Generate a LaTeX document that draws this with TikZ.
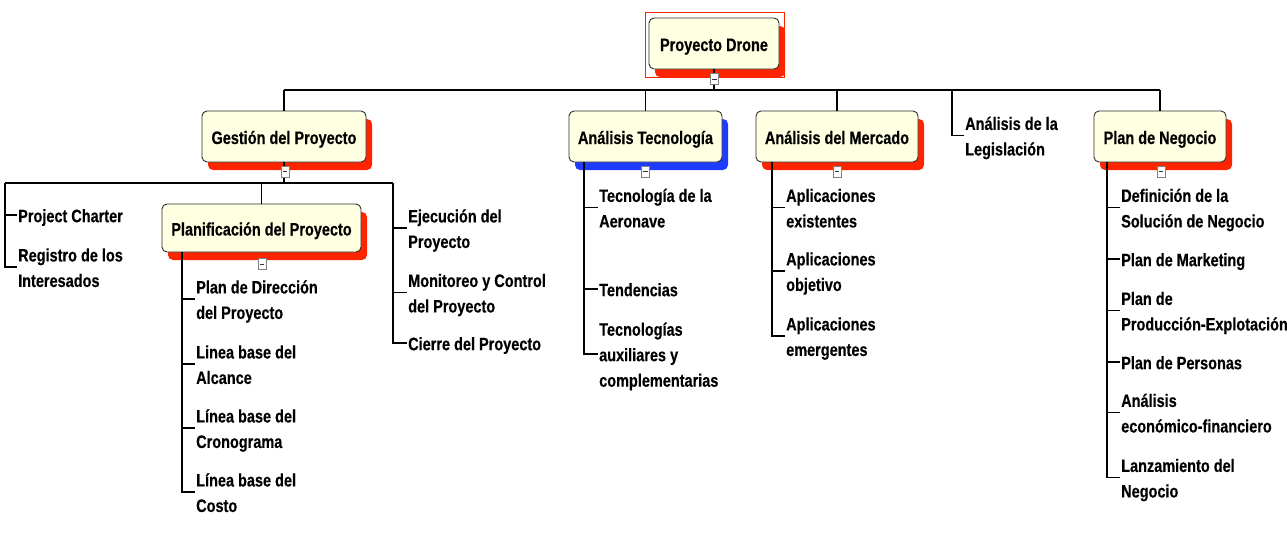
\documentclass[tikz,border=0pt]{standalone}
\usepackage{fontspec}
\newfontfamily\nar{Liberation Sans}[FakeStretch=0.805,FakeBold=0.35]
\usetikzlibrary{shadows}
\definecolor{cream}{RGB}{255,255,226}
\definecolor{shred}{RGB}{255,36,0}
\definecolor{shblue}{RGB}{30,60,255}
\definecolor{bord}{RGB}{45,45,45}
\newcommand{\wbsfont}{\nar\bfseries\fontsize{18}{25.5}\selectfont}
\newcommand{\ts}{\rule{0pt}{22pt}}
\newcommand{\botstrut}{\rule[-7.6pt]{0pt}{7.6pt}}
\tikzset{
  conn/.style={line width=1.9pt, black, line join=miter},
  wbs/.style={draw=bord, line width=0.9pt, fill=cream, rounded corners=5pt,
    inner sep=0pt, font=\wbsfont, text height=16pt, text depth=1pt},
  redsh/.style={general shadow={fill=shred, shadow xshift=6pt, shadow yshift=-8pt}},
  blush/.style={general shadow={fill=shblue, shadow xshift=6pt, shadow yshift=-8pt}},
  leaf/.style={anchor=west, inner xsep=1pt, inner ysep=0pt, align=left, font=\wbsfont,
    execute at end node=\botstrut},
  marker/.style={draw=gray, fill=white, line width=0.6pt, minimum width=8pt,
    minimum height=11pt, inner sep=0pt,
    path picture={\draw[line width=1pt, black!80]
      ([xshift=-2.2pt]path picture bounding box.center) --
      ([xshift=2.2pt]path picture bounding box.center);}}
}
\begin{document}
\begin{tikzpicture}[x=1pt,y=-1pt]
\fill[white] (0,0) rectangle (1287,558);
\useasboundingbox (0,0) rectangle (1287,558);

% selection frame of the root
\draw[shred, line width=0.8pt] (645,12) rectangle (784,77);

% boxes
\node[wbs, redsh, minimum width=130pt, minimum height=51pt] (root) at (714,43.5) {Proyecto Drone};
\node[wbs, redsh, minimum width=164pt, minimum height=51pt] (gest) at (284,136.5) {Gestión del Proyecto};
\node[wbs, blush, minimum width=153pt, minimum height=51pt] (tec) at (645.5,136.5) {Análisis Tecnología};
\node[wbs, redsh, minimum width=162pt, minimum height=51pt] (merc) at (837,136.5) {Análisis del Mercado};
\node[wbs, redsh, minimum width=132pt, minimum height=51pt] (pneg) at (1160,136.5) {Plan de Negocio};
\node[wbs, redsh, minimum width=199pt, minimum height=48pt] (plani) at (261.5,228) {Planificación del Proyecto};

% leaves
\node[leaf] (leg) at (964,135.5) {\ts Análisis de la\\Legislación};

\node[leaf] (pc) at (17,215) {\ts Project Charter};
\node[leaf] (reg) at (17,267) {\ts Registro de los\\Interesados};

\node[leaf] (pd) at (195,299) {\ts Plan de Dirección\\del Proyecto};
\node[leaf] (la) at (195,364) {\ts Linea base del\\Alcance};
\node[leaf] (lcr) at (195,428) {\ts Línea base del\\Cronograma};
\node[leaf] (lco) at (195,492) {\ts Línea base del\\Costo};

\node[leaf] (eje) at (407,228) {\ts Ejecución del\\Proyecto};
\node[leaf] (mon) at (407,292.5) {\ts Monitoreo y Control\\del Proyecto};
\node[leaf] (cie) at (407,343) {\ts Cierre del Proyecto};

\node[leaf] (tec1) at (598,207.5) {\ts Tecnología de la\\Aeronave};
\node[leaf] (ten) at (598,289) {\ts Tendencias};
\node[leaf] (tec3) at (598,354) {\ts Tecnologías\\auxiliares y\\complementarias};

\node[leaf] (ap1) at (785,207.5) {\ts Aplicaciones\\existentes};
\node[leaf] (ap2) at (785,271) {\ts Aplicaciones\\objetivo};
\node[leaf] (ap3) at (785,336) {\ts Aplicaciones\\emergentes};

\node[leaf] (def) at (1120,207.5) {\ts Definición de la\\Solución de Negocio};
\node[leaf] (mkt) at (1120,259) {\ts Plan de Marketing};
\node[leaf] (prod) at (1120,310.5) {\ts Plan de\\Producción-Explotación};
\node[leaf] (per) at (1120,362) {\ts Plan de Personas};
\node[leaf] (eco) at (1120,412.5) {\ts Análisis\\económico-financiero};
\node[leaf] (lan) at (1120,477.5) {\ts Lanzamiento del\\Negocio};

% level 1 connectors
\coordinate (bar) at (0,90);
\coordinate (legtop) at (952,90);
\draw[conn] (root.south) -- (root.south |- bar);
\draw[conn] (gest.north |- bar) -- (pneg.north |- bar);
\draw[conn] (gest.north |- bar) -- (gest.north);
\draw[conn] (tec.north |- bar) -- (tec.north);
\draw[conn] (merc.north |- bar) -- (merc.north);
\draw[conn] (pneg.north |- bar) -- (pneg.north);
\draw[conn] (legtop) |- (leg.west);

% Gestion subtree
\coordinate (gl) at (5,183);
\coordinate (gr) at (393,183);
\draw[conn] (gest.south) -- (gest.south |- gl);
\draw[conn] (gl) -- (gr);
\draw[conn] (gl) |- (reg.west);
\draw[conn] (gl |- pc.west) -- (pc.west);
\draw[conn] (plani.north |- gl) -- (plani.north);
\draw[conn] (gr) |- (cie.west);
\draw[conn] (gr |- eje.west) -- (eje.west);
\draw[conn] (gr |- mon.west) -- (mon.west);

% Planificacion children
\coordinate (pv) at (182,0);
\draw[conn] (pv |- plani.south) |- (lco.west);
\foreach \c in {pd,la,lcr} \draw[conn] (pv |- \c.west) -- (\c.west);

% Tecnologia children
\coordinate (tv) at (584,0);
\draw[conn] (tv |- tec.south) |- (tec3.west);
\foreach \c in {tec1,ten} \draw[conn] (tv |- \c.west) -- (\c.west);

% Mercado children
\coordinate (mv) at (772,0);
\draw[conn] (mv |- merc.south) |- (ap3.west);
\foreach \c in {ap1,ap2} \draw[conn] (mv |- \c.west) -- (\c.west);

% Negocio children
\coordinate (nv) at (1107,0);
\draw[conn] (nv |- pneg.south) |- (lan.west);
\foreach \c in {def,mkt,prod,per,eco} \draw[conn] (nv |- \c.west) -- (\c.west);

% collapse markers
\node[marker] (m0) at (714.5,79) {};
\node[marker] (m1) at (285,171.5) {};
\node[marker] (m2) at (262,264) {};
\node[marker] (m3) at (645.5,171.5) {};
\node[marker] (m4) at (837,171.5) {};
\node[marker] (m5) at (1161,171.5) {};
\end{tikzpicture}
\end{document}
